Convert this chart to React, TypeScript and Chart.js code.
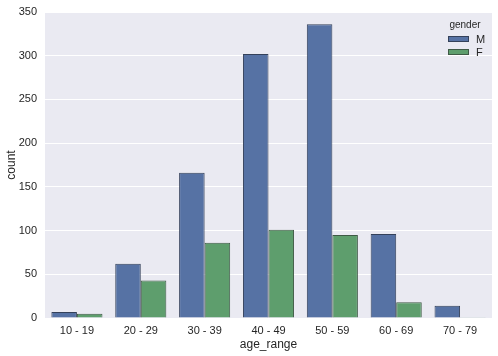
import React, { useEffect, useRef } from "react";
import { Chart, registerables } from "chart.js";

Chart.register(...registerables);

const categories = ["10 - 19", "20 - 29", "30 - 39", "40 - 49", "50 - 59", "60 - 69", "70 - 79"];
const maleCounts = [7, 62, 166, 302, 336, 96, 14];
const femaleCounts = [5, 43, 86, 101, 95, 18, 1];
const seriesNames = ["M", "F"];
const yTicks = [0, 50, 100, 150, 200, 250, 300, 350];

const FONT = "'Liberation Sans', Arial, sans-serif";
const BLUE = "#5672A4";
const GREEN = "#5E9E6D";
const BLUE_EDGE = "#34415A";
const GREEN_EDGE = "#3F5A46";
const TEXT = "#262626";

const bgPlugin = {
  id: "bgPlugin",
  beforeDraw(chart: any) {
    const { ctx, chartArea } = chart;
    ctx.save();
    ctx.fillStyle = "#EAEAF2";
    ctx.fillRect(chartArea.left, chartArea.top, chartArea.right - chartArea.left, chartArea.bottom - chartArea.top);
    ctx.restore();
  },
};

const legendPlugin = {
  id: "legendPlugin",
  afterDraw(chart: any) {
    const { ctx } = chart;
    ctx.save();
    ctx.fillStyle = TEXT;
    ctx.textBaseline = "middle";
    ctx.textAlign = "center";
    ctx.font = `10px ${FONT}`;
    ctx.fillText("gender", 465, 25);
    const colors = [BLUE, GREEN];
    const edges = [BLUE_EDGE, GREEN_EDGE];
    chart.data.datasets.forEach((ds: any, i: number) => {
      const y = 36 + i * 13;
      ctx.fillStyle = colors[i];
      ctx.fillRect(448, y, 20, 6);
      ctx.strokeStyle = edges[i];
      ctx.lineWidth = 1;
      ctx.strokeRect(448.5, y + 0.5, 20, 5);
      ctx.fillStyle = TEXT;
      ctx.textAlign = "left";
      ctx.font = `11px ${FONT}`;
      ctx.fillText(ds.label, 476, y + 3.5);
    });
    ctx.restore();
  },
};

export default function App() {
  const ref = useRef<HTMLCanvasElement>(null);
  useEffect(() => {
    document.body.style.margin = "0";
    const chart = new Chart(ref.current!, {
      type: "bar",
      data: {
        labels: categories,
        datasets: [
          {
            label: seriesNames[0],
            data: maleCounts,
            backgroundColor: BLUE,
            borderColor: BLUE_EDGE,
            borderWidth: 1,
            categoryPercentage: 0.8,
            barPercentage: 1.0,
          },
          {
            label: seriesNames[1],
            data: femaleCounts,
            backgroundColor: GREEN,
            borderColor: GREEN_EDGE,
            borderWidth: 1,
            categoryPercentage: 0.8,
            barPercentage: 1.0,
          },
        ],
      },
      options: {
        responsive: false,
        animation: false,
        layout: { padding: { left: 0, right: 6, top: 12, bottom: 0 } },
        plugins: {
          legend: { display: false },
          tooltip: { enabled: false },
        },
        scales: {
          x: {
            grid: { display: false, drawTicks: false },
            border: { display: false },
            ticks: { color: TEXT, font: { family: FONT, size: 11 }, padding: 6 },
            title: { display: true, text: "age_range", color: TEXT, font: { family: FONT, size: 12 } },
            afterFit(scale: any) {
              scale.height = 38;
              scale.paddingLeft = 0;
              scale.paddingRight = 0;
            },
          },
          y: {
            min: 0,
            max: 350,
            afterBuildTicks(scale: any) {
              scale.ticks = yTicks.map((v) => ({ value: v }));
            },
            grid: { color: "#FFFFFF", lineWidth: 1, drawTicks: false },
            border: { display: false },
            ticks: { color: TEXT, font: { family: FONT, size: 11 }, padding: 8 },
            title: { display: true, text: "count", color: TEXT, font: { family: FONT, size: 12 } },
            afterFit(scale: any) {
              scale.width = 45;
              scale.paddingTop = 0;
              scale.paddingBottom = 0;
            },
          },
        },
      },
      plugins: [bgPlugin, legendPlugin],
    });
    return () => chart.destroy();
  }, []);
  return (
    <div style={{ width: 498, height: 356, background: "#FFFFFF" }}>
      <canvas ref={ref} width={498} height={356} />
    </div>
  );
}
